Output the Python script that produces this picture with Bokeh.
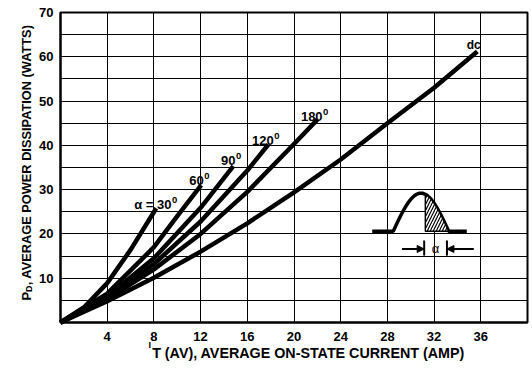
import numpy as np
from bokeh.plotting import figure
from bokeh.models import FixedTicker, Label, Arrow, NormalHead
from bokeh.core.properties import value
from bokeh.embed import file_html
from bokeh.resources import INLINE

FONT = "Liberation Sans"

# ---------------- data ----------------
x_min, x_max = 0, 40          # chart limits (amps)
y_min, y_max = 0, 70          # chart limits (watts)
x_ticks = [4, 8, 12, 16, 20, 24, 28, 32, 36]
y_ticks = [10, 20, 30, 40, 50, 60, 70]
x_grid = [4, 8, 12, 16, 20, 24, 28, 32, 36]
y_grid = [5, 10, 15, 20, 25, 30, 35, 40, 45, 50, 55, 60, 65]

i_30 = [0, 2, 4, 6, 8.2]
p_30 = [0, 3.4, 8.9, 16.4, 25.8]
i_60 = [0, 4, 8, 10, 12.05]
p_60 = [0, 6.5, 17.0, 24.0, 31.0]
i_90 = [0, 4, 8, 12, 14.8]
p_90 = [0, 5.9, 14.5, 25.9, 35.3]
i_120 = [0, 4, 8, 12, 16, 17.8]
p_120 = [0, 5.6, 13.2, 22.8, 34.3, 40.2]
i_180 = [0, 4, 8, 12, 16, 20, 22.0]
p_180 = [0, 5.3, 12.0, 20.0, 29.5, 40.3, 45.8]
i_dc = [0, 4, 8, 12, 16, 20, 24, 28, 32, 35.7]
p_dc = [0, 4.8, 10.1, 16.0, 22.4, 29.4, 36.8, 45.0, 53.0, 61.2]

curve_labels = ["\u03b1 = 30", "60", "90", "120", "180"]
label_x = [9.5, 12.27, 14.99, 18.27, 22.45]
label_y = [26.75, 32.05, 36.57, 41.08, 46.6]
dc_label = "dc"
dc_label_x, dc_label_y = 35.4, 62.6

# ---------------- figure ----------------
# The frame fills the whole canvas, so that the axis titles (drawn as labels)
# are not clipped; the axes are pinned at x=0 / y=0 and bounded to the chart.
W, H = 532, 368
L, R, T, B = 60, 527, 12, 322          # chart box on the canvas
sx = (R - L) / (x_max - x_min)
sy = (B - T) / (y_max - y_min)
xr = (x_min - L / sx, x_max + (W - R) / sx)
yr = (y_min - (H - B) / sy, y_max + T / sy)

p = figure(width=W, height=H, x_range=xr, y_range=yr,
           output_backend="svg", toolbar_location=None, min_border=0)
p.background_fill_color = "white"
p.border_fill_color = "white"
p.outline_line_color = None

p.xaxis.ticker = FixedTicker(ticks=x_ticks)
p.yaxis.ticker = FixedTicker(ticks=y_ticks)
p.xaxis.fixed_location = y_min
p.yaxis.fixed_location = x_min
p.xaxis.bounds = (x_min, x_max)
p.yaxis.bounds = (y_min, y_max)

p.xgrid.ticker = FixedTicker(ticks=x_grid)
p.ygrid.ticker = FixedTicker(ticks=y_grid)
grid_ok = True
try:
    p.xgrid.cross_bounds = (y_min, y_max)
    p.ygrid.cross_bounds = (x_min, x_max)
    p.xgrid.bounds = (x_min, x_max)
    p.ygrid.bounds = (y_min, y_max)
except Exception:
    grid_ok = False
if grid_ok:
    for g in (p.xgrid, p.ygrid):
        g.grid_line_color = "black"
        g.grid_line_width = 1
        g.grid_line_alpha = 1
else:
    p.xgrid.visible = False
    p.ygrid.visible = False
    p.segment(x0=x_grid, y0=[y_min] * len(x_grid), x1=x_grid,
              y1=[y_max] * len(x_grid), line_color="black", line_width=1)
    p.segment(x0=[x_min] * len(y_grid), y0=y_grid, x1=[x_max] * len(y_grid),
              y1=y_grid, line_color="black", line_width=1)

for ax in (p.xaxis, p.yaxis):
    ax.axis_line_color = "black"
    ax.axis_line_width = 2
    ax.major_tick_in = 0
    ax.major_tick_out = 0
    ax.minor_tick_in = 0
    ax.minor_tick_out = 0
    ax.major_label_text_font = FONT
    ax.major_label_text_font_size = "13px"
    ax.major_label_text_font_style = "bold"
    ax.major_label_text_color = "black"
p.yaxis.major_label_standoff = 7
p.xaxis.major_label_standoff = 9

# chart border
p.quad(left=[x_min], right=[x_max], bottom=[y_min], top=[y_max],
       fill_color=None, line_color="black", line_width=2)

# ---------------- curves ----------------
for xs, ys in [(i_30, p_30), (i_60, p_60), (i_90, p_90), (i_120, p_120),
               (i_180, p_180), (i_dc, p_dc)]:
    p.line(xs, ys, line_width=4.5, line_color="black", line_cap="butt",
           line_join="round")

# curve labels: main text right-aligned, superscript "0" left of anchor
p.text(x=label_x, y=label_y, text=curve_labels, text_align="right",
       text_baseline="alphabetic", text_font=value(FONT),
       text_font_size="13px", text_font_style="bold", text_color="black")
p.text(x=label_x, y=label_y, text=["0"] * len(curve_labels), text_align="left",
       text_baseline="alphabetic", y_offset=-4.5, x_offset=0.5,
       text_font=value(FONT), text_font_size="9.5px", text_font_style="bold",
       text_color="black")
p.text(x=[dc_label_x], y=[dc_label_y], text=[dc_label], text_align="center",
       text_baseline="alphabetic", text_font=value(FONT),
       text_font_size="12px", text_font_style="bold", text_color="black")

# ---------------- inset: conduction-angle sketch ----------------
base, peak = 20.6, 29.2
x_l, x0, x1, x_r, x_h = 26.7, 28.5, 33.25, 34.8, 31.25
t = np.linspace(0, 1, 60)
px = x0 + (x1 - x0) * t
py = base + (peak - base) * np.sin(np.pi * t)
p.line(np.concatenate([[x_l], px, [x_r]]), np.concatenate([[base], py, [base]]),
       line_width=3.5, line_color="black")
m = px >= x_h
hx = np.concatenate([[x_h, x_h], px[m], [x1]])
hy = np.concatenate([[base, base + (peak - base) * np.sin(np.pi * (x_h - x0) / (x1 - x0))], py[m], [base]])
p.patch(hx, hy, fill_color="white", line_color="black", line_width=1.5,
        hatch_pattern="/", hatch_color="black", hatch_scale=6, hatch_weight=1.2)
ay = 16.6
p.segment(x0=[31.15, 33.1], y0=[15.1, 15.1], x1=[31.15, 33.1], y1=[18.5, 18.5],
          line_width=2, line_color="black")
p.add_layout(Arrow(x_start=29.25, y_start=ay, x_end=31.15, y_end=ay,
                   line_width=2, line_color="black",
                   end=NormalHead(size=7, fill_color="black", line_color="black")))
p.add_layout(Arrow(x_start=35.4, y_start=ay, x_end=33.1, y_end=ay,
                   line_width=2, line_color="black",
                   end=NormalHead(size=7, fill_color="black", line_color="black")))
p.text(x=[32.12], y=[ay], text=["\u03b1"], text_align="center",
       text_baseline="middle", text_font=value(FONT), text_font_size="13px",
       text_color="black")

# ---------------- axis titles ----------------
def title_label(text, x, y, size, angle=0.0):
    return Label(x=x, y=y, text=text, angle=angle, text_font=FONT,
                 text_font_size=size, text_font_style="bold",
                 text_color="black", text_baseline="alphabetic",
                 text_align="left")

p.add_layout(title_label("I", 7.54, -4.97, "9px"))
p.add_layout(title_label("T (AV), AVERAGE ON-STATE CURRENT (AMP)", 7.85, -6.89, "14.3px"))
p.add_layout(title_label("P", -2.91, 4.97, "13px", np.pi / 2))
p.add_layout(title_label("D", -2.70, 6.89, "9px", np.pi / 2))
p.add_layout(title_label(", AVERAGE POWER DISSIPATION (WATTS)", -2.91, 8.40, "12.8px", np.pi / 2))

open("out.html", "w").write(file_html(p, INLINE))
